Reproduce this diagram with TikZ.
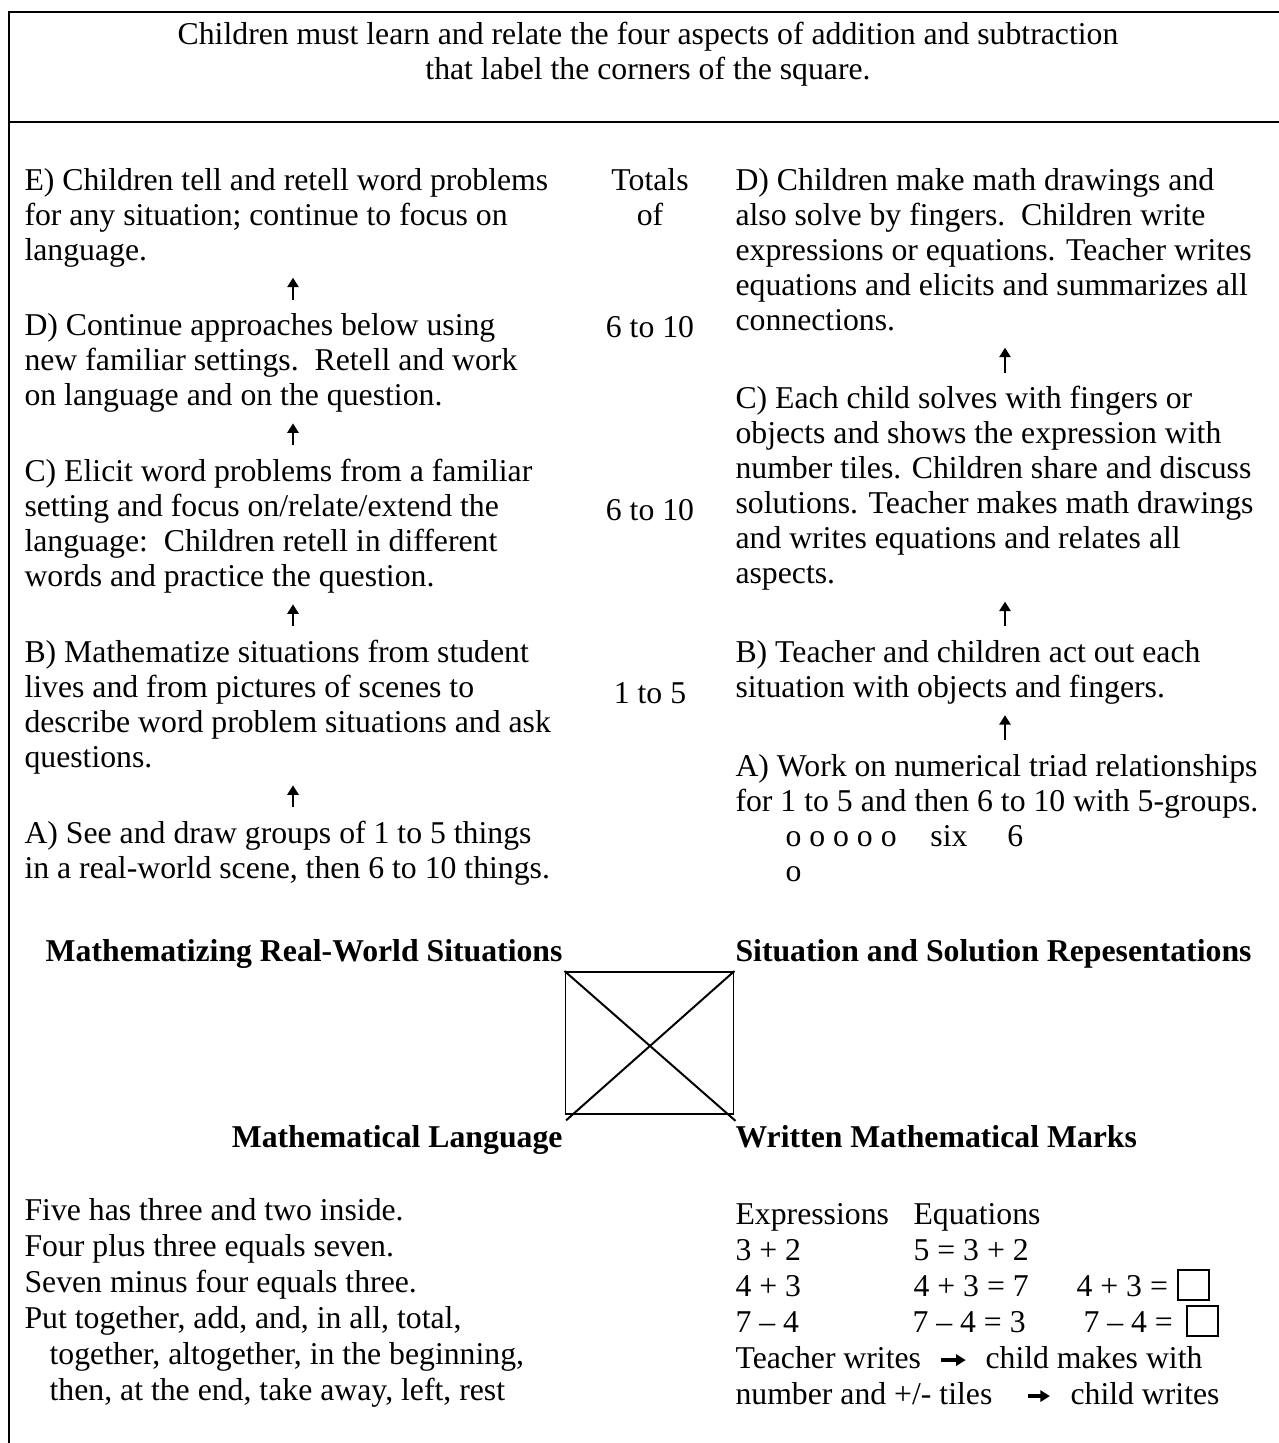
\documentclass[tikz,border=0pt]{standalone}
\usepackage{fontspec}
\setmainfont{Liberation Serif}
\usepackage{tikz}
\usetikzlibrary{positioning, arrows.meta}

\newcommand{\bodyfont}{\fontsize{12}{13.23}\selectfont}
\newcommand{\langfont}{\fontsize{12}{13.6}\selectfont}

\begin{document}
\begin{tikzpicture}[
    x=0.378pt, y=-0.378pt,
    node distance=15.9pt,
    every node/.style={font=\bodyfont, inner sep=0pt},
    block/.style={align=left, anchor=north west,
                  execute at begin node=\strut, execute at end node=\strut},
    total/.style={anchor=base, align=center},
    corner/.style={font=\bodyfont\bfseries},
    word/.style={anchor=base west},
    frame/.style={line width=1pt},
    steparr/.style={-{Triangle[length=3.6pt, width=4.2pt]}, line width=1pt,
                    shorten <=5.1pt, shorten >=2.5pt},
    flowarr/.style={-{Triangle[length=3.6pt, width=4.2pt]}, line width=1.3pt},
    tile/.style={draw, line width=0.8pt, minimum width=11.7pt, minimum height=11.3pt, anchor=north west}
]

% page and frame
\useasboundingbox (0,0) rectangle (1278,1443);
\draw[frame] (1300,12) -- (9,12) -- (9,1460);
\draw[frame] (9,122) -- (1300,122);

% heading row
\node[anchor=north, align=center, execute at begin node=\strut, execute at end node=\strut]
    (intro) at (648,21.5) {Children must learn and relate the four aspects of addition and subtraction\\that label the corners of the square.};

% column centres for the step arrows
\coordinate (lcol) at (293,0);
\coordinate (rcol) at (1005,0);

% left column: real-world situations
\node[block] (lE) at (24,167.5) {E) Children tell and retell word problems\\for any situation; continue to focus on\\language.};
\node[block, below=of lE.south west, anchor=north west] (lD) {D) Continue approaches below using\\new familiar settings.\ \ Retell and work\\on language and on the question.};
\node[block, below=of lD.south west, anchor=north west] (lC) {C) Elicit word problems from a familiar\\setting and focus on/relate/extend the\\language:\ \ Children retell in different\\words and practice the question.};
\node[block, below=of lC.south west, anchor=north west] (lB) {B) Mathematize situations from student\\lives and from pictures of scenes to\\describe word problem situations and ask\\questions.};
\node[block, below=of lB.south west, anchor=north west] (lA) {A) See and draw groups of 1 to 5 things\\in a real-world scene, then 6 to 10 things.};

\draw[steparr] (lA.north -| lcol) -- (lB.south -| lcol);
\draw[steparr] (lB.north -| lcol) -- (lC.south -| lcol);
\draw[steparr] (lC.north -| lcol) -- (lD.south -| lcol);
\draw[steparr] (lD.north -| lcol) -- (lE.south -| lcol);

% middle column: totals
\node[anchor=north, align=center, execute at begin node=\strut, execute at end node=\strut] (totals) at (650,167.5) {Totals\\of};
\node[total] (tot3) at (650,338) {6 to 10};
\node[total] (tot2) at (650,521) {6 to 10};
\node[total] (tot1) at (650,703) {1 to 5};

% right column: situation and solution
\node[block] (rD) at (735,167.5) {D) Children make math drawings and\\also solve by fingers.\ \ Children write\\expressions or equations. Teacher writes\\equations and elicits and summarizes all\\connections.};
\node[block, below=17pt of rD.south west, anchor=north west] (rC) {C) Each child solves with fingers or\\objects and shows the expression with\\number tiles. Children share and discuss\\solutions. Teacher makes math drawings\\and writes equations and relates all\\aspects.};
\node[block, below=17pt of rC.south west, anchor=north west] (rB) {B) Teacher and children act out each\\situation with objects and fingers.};
\node[block, below=17pt of rB.south west, anchor=north west] (rA) {A) Work on numerical triad relationships\\for 1 to 5 and then 6 to 10 with 5-groups.};
\node[block, below=1pt of rA.south west, anchor=north west, xshift=18.9pt] (rSix) {\makebox[54.8pt][l]{o o o o o}\makebox[29.1pt][l]{six}6\\o};

\draw[steparr] (rA.north -| rcol) -- (rB.south -| rcol);
\draw[steparr] (rB.north -| rcol) -- (rC.south -| rcol);
\draw[steparr] (rC.north -| rcol) -- (rD.south -| rcol);

% the square and its corners
\node[corner, anchor=base east] (mrw) at (563,961) {Mathematizing Real-World Situations};
\node[corner, anchor=base west] (ssr) at (735,961) {Situation and Solution Repesentations};
\node[draw, line width=0.75pt, minimum width=63.5pt, minimum height=53.7pt, anchor=north west] (sq) at (564.5,971) {};
\draw[line width=0.75pt] (sq.north west) -- ([xshift=0.4pt, yshift=-2.2pt]sq.south east);
\draw[line width=0.75pt] (sq.north east) -- ([xshift=0.6pt, yshift=-2pt]sq.south west);
\node[corner, anchor=base east] (mlang) at (563,1147) {Mathematical Language};
\node[corner, anchor=base west] (wmm) at (735,1147) {Written Mathematical Marks};

% language
\node[block, font=\langfont] (lang) at (24,1198) {Five has three and two inside.\\Four plus three equals seven.\\Seven minus four equals three.\\Put together, add, and, in all, total,\\\hspace*{9.5pt}together, altogether, in the beginning,\\\hspace*{9.5pt}then, at the end, take away, left, rest};

% written marks
\node[word] (expr) at (735,1224) {Expressions};
\node[word] (eqn) at (913,1224) {Equations};
\node[word] (ex1) at (735,1260) {3 + 2};
\node[word] (eq1) at (913,1260) {5 = 3 + 2};
\node[word] (ex2) at (735,1296) {4 + 3};
\node[word] (eq2) at (913,1296) {4 + 3 = 7};
\node[word] (op2) at (1076,1296) {4 + 3 =};
\node[tile] (tile2) at (1177,1269) {};
\node[word] (ex3) at (735,1332) {7 – 4};
\node[word] (eq3) at (912,1332) {7 – 4 = 3};
\node[word] (op3) at (1083,1332) {7 – 4 =};
\node[tile] (tile3) at (1186,1305) {};

\node[word] (tw) at (735,1368) {Teacher writes};
\node[word] (cm) at (985,1368) {child makes with};
\node[word] (nt) at (735,1404) {number and +/- tiles};
\node[word] (cw) at (1070,1404) {child writes};
\draw[flowarr, shorten <=7.3pt, shorten >=7.3pt] ([yshift=3pt]tw.base east) -- ([yshift=3pt]cm.base west);
\draw[flowarr, shorten <=13.2pt, shorten >=7.6pt] ([yshift=3pt]nt.base east) -- ([yshift=3pt]cw.base west);

\end{tikzpicture}
\end{document}
